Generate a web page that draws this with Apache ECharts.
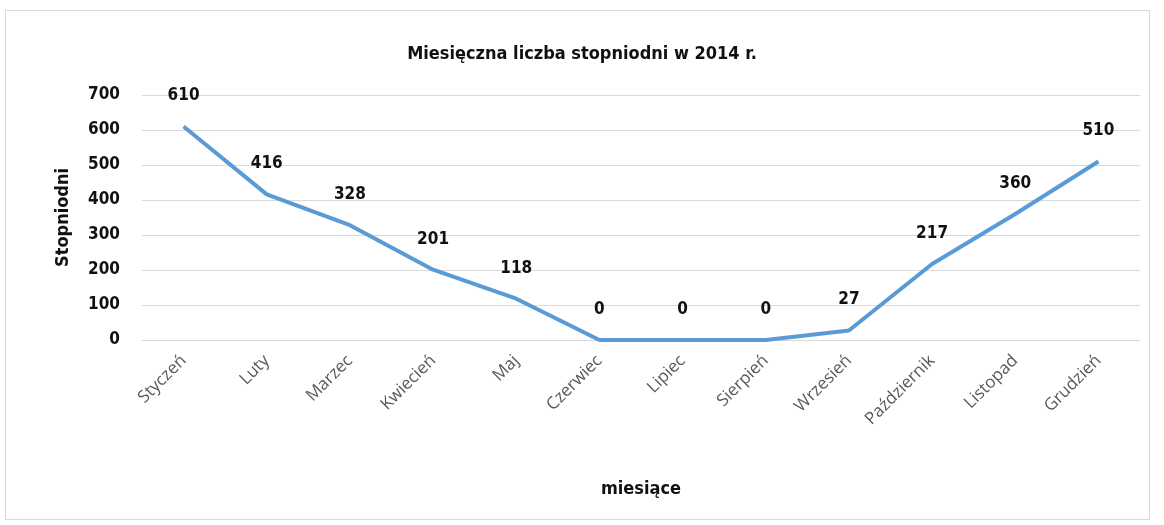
<!DOCTYPE html>
<html>
<head>
<meta charset="utf-8">
<script src="https://cdn.jsdelivr.net/npm/echarts@6/dist/echarts.min.js"></script>
<style>
  html, body { margin: 0; padding: 0; background: #ffffff; }
  #frame { position: absolute; left: 5px; top: 10px; width: 1145px; height: 510px;
           border: 1px solid #d9d9d9; box-sizing: border-box; background: #fff; }
  #chart { position: absolute; left: 0; top: 0; width: 1164px; height: 525px; }
</style>
</head>
<body>
<div id="frame"></div>
<div id="chart"></div>
<script>
// Monthly heating degree-days, 2014
const months = ['Styczeń', 'Luty', 'Marzec', 'Kwiecień', 'Maj', 'Czerwiec', 'Lipiec',
                'Sierpień', 'Wrzesień', 'Październik', 'Listopad', 'Grudzień'];
const degreeDays = [610, 416, 328, 201, 118, 0, 0, 0, 27, 217, 360, 510];
const yTicks = [0, 100, 200, 300, 400, 500, 600, 700];

const narrow = "'Liberation Sans Narrow', 'DejaVu Sans Condensed', 'Liberation Sans', sans-serif";
const chart = echarts.init(document.getElementById('chart'), null, { renderer: 'canvas' });
chart.setOption({
  backgroundColor: 'transparent',
  title: {
    text: 'Miesięczna liczba stopniodni w 2014 r.',
    left: 'center', top: 40,
    textStyle: { fontFamily: narrow, fontWeight: 'bold', fontSize: 18, color: '#111' }
  },
  grid: { left: 142, right: 24, top: 95, bottom: 185, containLabel: false },
  xAxis: {
    type: 'category',
    data: months,
    boundaryGap: true,
    axisLine: { show: true, lineStyle: { color: '#d9d9d9', width: 1 } },
    axisTick: { show: false },
    axisLabel: {
      rotate: 45, color: '#595959', fontSize: 17, margin: 18,
      fontFamily: "'Open Sans', 'Noto Sans', sans-serif"
    },
    name: 'miesiące',
    nameLocation: 'middle',
    nameGap: 140,
    nameTextStyle: { fontFamily: narrow, fontWeight: 'bold', fontSize: 18, color: '#111' }
  },
  yAxis: {
    type: 'value',
    min: yTicks[0], max: yTicks[yTicks.length - 1], interval: 100,
    axisLine: { show: false },
    axisTick: { show: false },
    splitLine: { lineStyle: { color: '#d9d9d9', width: 1 } },
    axisLabel: {
      color: '#111', fontSize: 17, fontWeight: 'bold', margin: 22,
      fontFamily: narrow
    },
    name: 'Stopniodni',
    nameLocation: 'middle',
    nameGap: 70,
    nameRotate: 90,
    nameTextStyle: { fontFamily: narrow, fontWeight: 'bold', fontSize: 18, color: '#111' }
  },
  series: [{
    type: 'line',
    data: degreeDays,
    symbol: 'circle',
    symbolSize: 0.1,
    showSymbol: true,
    lineStyle: { color: '#5b9bd5', width: 4 },
    itemStyle: { color: '#5b9bd5' },
    label: {
      show: true, position: 'top', distance: 22,
      color: '#111', fontSize: 17, fontWeight: 'bold', fontFamily: narrow
    },
    animation: false
  }],
  animation: false
});
</script>
</body>
</html>
